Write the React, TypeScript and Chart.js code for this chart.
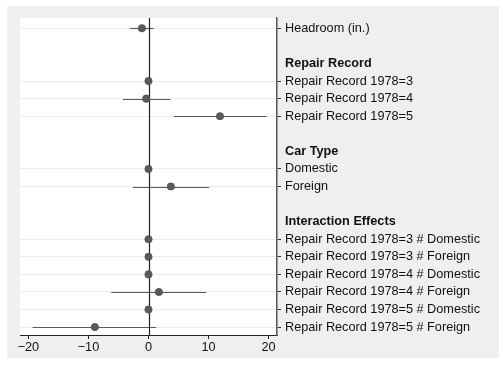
import React, { useEffect, useRef } from "react";
import { Chart, registerables } from "chart.js";

Chart.register(...registerables);

// Row labels (top to bottom); headers are bold and have no marker
const rowLabels: string[] = [
  "Headroom (in.)",
  "",
  "Repair Record",
  "Repair Record 1978=3",
  "Repair Record 1978=4",
  "Repair Record 1978=5",
  "",
  "Car Type",
  "Domestic",
  "Foreign",
  "",
  "Interaction Effects",
  "Repair Record 1978=3 # Domestic",
  "Repair Record 1978=3 # Foreign",
  "Repair Record 1978=4 # Domestic",
  "Repair Record 1978=4 # Foreign",
  "Repair Record 1978=5 # Domestic",
  "Repair Record 1978=5 # Foreign",
];
const headerRows: number[] = [2, 7, 11];
const blankRows: number[] = [1, 6, 10];

// Coefficients: row index, estimate, CI low, CI high
const coefRows: number[] = [0, 3, 4, 5, 8, 9, 12, 13, 14, 15, 16, 17];
const estimates: number[] = [-1.1, 0, -0.38, 11.9, 0, 3.73, 0, 0, 0, 1.73, 0, -8.93];
const ciLow: number[] = [-3.05, 0, -4.27, 4.23, 0, -2.6, 0, 0, 0, -6.2, 0, -19.3];
const ciHigh: number[] = [0.83, 0, 3.67, 19.7, 0, 10.1, 0, 0, 0, 9.6, 0, 1.28];

const xTicks: number[] = [-20, -10, 0, 10, 20];

const FONT = "'Liberation Sans', Arial, Helvetica, sans-serif";
const FS = 12.7;
const MARK = "#5a5a5a";

export default function App() {
  const ref = useRef<HTMLCanvasElement>(null);

  useEffect(() => {
    if (!ref.current) return;

    const ciPlugin = {
      id: "ciPlugin",
      beforeDraw(chart: any) {
        const { ctx, chartArea } = chart;
        ctx.save();
        ctx.fillStyle = "#ffffff";
        ctx.fillRect(chartArea.left, chartArea.top, chartArea.right - chartArea.left, chartArea.bottom - chartArea.top);
        ctx.restore();
      },
      beforeDatasetsDraw(chart: any) {
        const { ctx, scales } = chart;
        const xs = scales.x;
        const ys = scales.y;
        ctx.save();
        ctx.strokeStyle = MARK;
        ctx.lineWidth = 1.2;
        for (let i = 0; i < coefRows.length; i++) {
          if (ciLow[i] === ciHigh[i]) continue;
          const y = Math.round(ys.getPixelForValue(coefRows[i])) + 0.5;
          ctx.beginPath();
          ctx.moveTo(xs.getPixelForValue(ciLow[i]), y);
          ctx.lineTo(xs.getPixelForValue(ciHigh[i]), y);
          ctx.stroke();
        }
        ctx.restore();
      },
      afterDatasetsDraw(chart: any) {
        const { ctx, scales, chartArea } = chart;
        const x = Math.round(scales.x.getPixelForValue(0)) + 0.5;
        ctx.save();
        ctx.strokeStyle = "#222222";
        ctx.lineWidth = 1.2;
        ctx.beginPath();
        ctx.moveTo(x, chartArea.top);
        ctx.lineTo(x, chartArea.bottom);
        ctx.stroke();
        ctx.fillStyle = MARK;
        for (let i = 0; i < coefRows.length; i++) {
          const px = scales.x.getPixelForValue(estimates[i]);
          const py = scales.y.getPixelForValue(coefRows[i]);
          ctx.beginPath();
          ctx.arc(px, py, 3.8, 0, Math.PI * 2);
          ctx.fill();
        }
        ctx.restore();
      },
    };

    const chart = new Chart(ref.current, {
      type: "scatter",
      data: {
        datasets: [
          {
            data: coefRows.map((r, i) => ({ x: estimates[i], y: r })),
            backgroundColor: MARK,
            borderColor: MARK,
            pointRadius: 3.8,
            borderWidth: 0,
          },
        ],
      },
      plugins: [ciPlugin],
      options: {
        animation: false,
        responsive: false,
        maintainAspectRatio: false,
        layout: { padding: { left: 13, top: 12, right: 0, bottom: 0 } },
        plugins: { legend: { display: false }, tooltip: { enabled: false } },
        scales: {
          x: {
            type: "linear",
            min: -21.4,
            max: 21.4,
            afterBuildTicks: (s: any) => {
              s.ticks = xTicks.map((v) => ({ value: v }));
            },
            afterFit: (s: any) => {
              s.height = 23;
            },
            border: { display: true, color: "#222222", width: 1 },
            grid: {
              drawOnChartArea: false,
              drawTicks: true,
              tickLength: 4,
              tickColor: "#222222",
            },
            ticks: {
              color: "#111111",
              padding: 1,
              font: { family: FONT, size: FS },
              callback: (v: any) => (Number(v) < 0 ? "\u2212" + Math.abs(Number(v)) : String(v)),
            },
          },
          y: {
            type: "linear",
            position: "right",
            reverse: true,
            min: -0.59,
            max: 17.45,
            afterBuildTicks: (s: any) => {
              s.ticks = rowLabels.map((_, i) => ({ value: i }));
            },
            afterFit: (s: any) => {
              s.width = 222;
            },
            border: { display: true, color: "#555555", width: 1.5 },
            grid: {
              drawOnChartArea: true,
              drawTicks: true,
              tickLength: 4,
              color: (c: any) => {
                const v = c.tick ? c.tick.value : -1;
                return headerRows.includes(v) || blankRows.includes(v) ? "rgba(0,0,0,0)" : "#ebebeb";
              },
              tickColor: (c: any) => {
                const v = c.tick ? c.tick.value : -1;
                return headerRows.includes(v) || blankRows.includes(v) ? "rgba(0,0,0,0)" : "#333333";
              },
            },
            ticks: {
              color: "#111111",
              padding: 4,
              crossAlign: "near",
              font: (c: any) => ({
                family: FONT,
                size: FS,
                weight: c.tick && headerRows.includes(c.tick.value) ? "bold" : "normal",
              }),
              callback: (v: any) => rowLabels[Number(v)] ?? "",
            },
          },
        },
      },
    });
    return () => chart.destroy();
  }, []);

  return (
    <div style={{ position: "fixed", left: 0, top: 0, width: 499, height: 367, background: "#ffffff" }}>
      <div style={{ position: "absolute", left: 7, top: 6, width: 492, height: 352, background: "#efefef" }}>
        <canvas ref={ref} width={492} height={352} style={{ display: "block", width: 492, height: 352 }} />
      </div>
    </div>
  );
}
